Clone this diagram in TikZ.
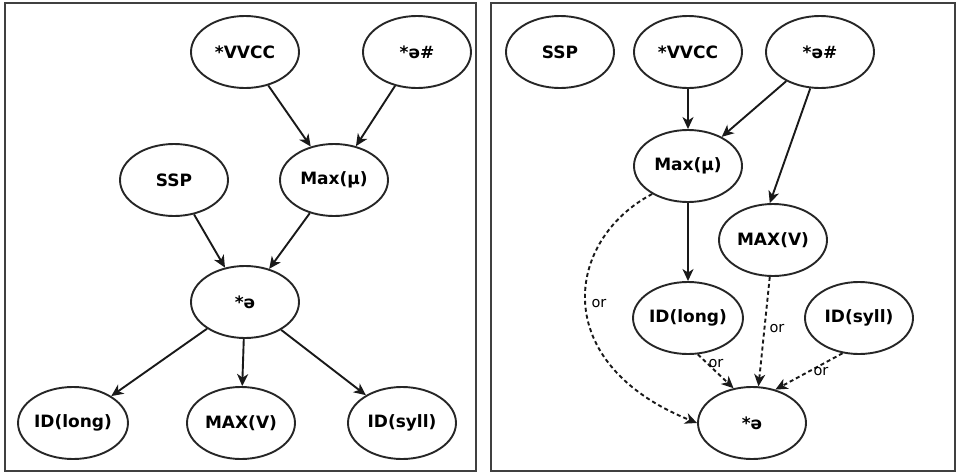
\documentclass[tikz,border=0pt]{standalone}
\usepackage{fontspec}
\setmainfont{DejaVu Sans}
\usetikzlibrary{shapes.geometric,arrows.meta}
\begin{document}
\begin{tikzpicture}[x=1pt,y=-1pt,
  ell/.style={draw=black!85,line width=1.9pt,ellipse,inner sep=0pt,minimum width=108pt,minimum height=72pt,
    font=\fontsize{17}{20}\selectfont\bfseries},
  arr/.style={draw=black!90,line width=1.9pt,-{Stealth[length=12pt,width=11pt,inset=3.5pt]}},
  darr/.style={arr,dash pattern=on 4pt off 3pt},
  orlab/.style={font=\fontsize{14.5}{16}\selectfont,inner sep=1pt},
  frame/.style={draw=black!75,line width=2.2pt}]
\path[fill=white] (0,0) rectangle (956,474);
\useasboundingbox (0,0) rectangle (956,474);
\draw[frame] (5,3) rectangle (476,471);
\draw[frame] (491,3) rectangle (955,471);
% left panel
\node[ell] (lvvcc) at (245,52) {*VVCC};
\node[ell] (lschwah) at (417,52) {*ə\#};
\node[ell] (lssp) at (174,180) {SSP};
\node[ell] (lmax) at (334,180) {Max(μ)};
\node[ell] (lschwa) at (245,302) {*ə};
\node[ell] (llong) at (73,423) {ID(long)};
\node[ell] (lmaxv) at (241,423) {MAX(V)};
\node[ell] (lsyll) at (402,423) {ID(syll)};
\draw[arr] (lvvcc) -- (lmax);
\draw[arr] (lschwah) -- (lmax);
\draw[arr] (lssp) -- (lschwa);
\draw[arr] (lmax) -- (lschwa);
\draw[arr] (lschwa) -- (llong);
\draw[arr] (lschwa) -- (lmaxv);
\draw[arr] (lschwa) -- (lsyll);
% right panel
\node[ell] (rssp) at (560,52) {SSP};
\node[ell] (rvvcc) at (688,52) {*VVCC};
\node[ell] (rschwah) at (820,52) {*ə\#};
\node[ell] (rmax) at (688,166) {Max(μ)};
\node[ell] (rmaxv) at (773,240) {MAX(V)};
\node[ell] (rlong) at (688,318) {ID(long)};
\node[ell] (rsyll) at (859,318) {ID(syll)};
\node[ell] (rschwa) at (752,423) {*ə};
\draw[arr] (rvvcc) -- (rmax);
\draw[arr] (rschwah) -- (rmax);
\draw[arr] (rschwah.255) -- (rmaxv.95);
\draw[arr] (rmax) -- (rlong);
\draw[darr] (rmax.218) .. controls (565,240) and (548,363) .. (rschwa.west);
\draw[darr] (rmaxv.265) -- (rschwa.80);
\draw[darr] (rlong.285) -- (rschwa.118);
\draw[darr] (rsyll.245) -- (rschwa.55);
\node[orlab] (or1) at (599,304) {or};
\node[orlab] (or2) at (777,329) {or};
\node[orlab] (or3) at (716,364) {or};
\node[orlab] (or4) at (821,372) {or};
\end{tikzpicture}
\end{document}
